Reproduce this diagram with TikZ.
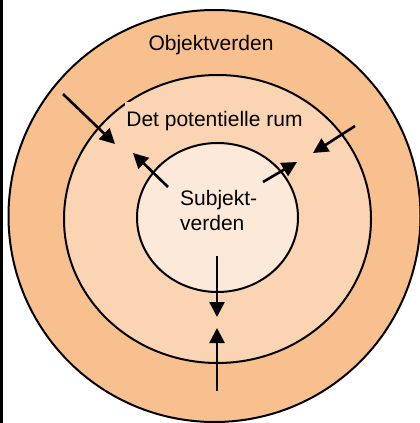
\documentclass[tikz,border=0pt]{standalone}
\usepackage{fontspec}
\setmainfont{Liberation Sans}
\usepackage{tikz}
\usetikzlibrary{shapes.geometric, arrows.meta, positioning}
\definecolor{objcol}{HTML}{F9C08F}
\definecolor{rumcol}{HTML}{FBD4B4}
\definecolor{subcol}{HTML}{FDE9D9}

\begin{document}
\begin{tikzpicture}[x=1pt, y=-1pt,
    ring/.style={draw, ellipse, line width=2pt, inner sep=0pt},
    caption/.style={font=\fontsize{21}{25}\selectfont, inner sep=0pt},
    push/.style={-{Triangle[length=15pt,width=15pt]}, line width=2.6pt}]
    \useasboundingbox (0,0) rectangle (420,423);
    \clip (0,0) rectangle (420,423);
    \fill[white] (0,0) rectangle (420,423);
    \fill[black] (0,0) rectangle (2.5,423);
    % the three worlds
    \node (objekt) [ring, fill=objcol, minimum width=412pt, minimum height=412pt] at (214.5,216) {};
    \node (rum) [ring, fill=rumcol, minimum width=307pt, minimum height=288pt] at (217.5,219) {};
    \node (rumtxt) [caption, anchor=base, fill=rumcol, inner xsep=1pt, inner ysep=9.5pt] at (214.5,126.5) {Det potentielle rum};
    \node (subjekt) [ring, fill=subcol, minimum width=161pt, minimum height=149pt] at (217.5,217.5) {};
    \node (objtxt) [caption, anchor=base] at (211,50) {Objektverden};
    \node (subtxt) [caption, anchor=west, align=left] at (180,210.3) {Subjekt-\\verden};
    % arrows
    \coordinate (nw out) at (63,94);
    \coordinate (nw in) at (115,144);
    \coordinate (nw sub) at (168,187);
    \coordinate (nw tip) at (133,153);
    \coordinate (ne out) at (355,126);
    \coordinate (ne in) at (313,153);
    \coordinate (ne sub) at (263,182);
    \coordinate (ne tip) at (297,162);
    \coordinate (s sub) at (217,256);
    \coordinate (s tip) at (217,317);
    \coordinate (s out) at (217,391);
    \coordinate (s in) at (217,328);
    \draw[push] (nw out) -- (nw in);
    \draw[push] (nw sub) -- (nw tip);
    \draw[push] (ne out) -- (ne in);
    \draw[push] (ne sub) -- (ne tip);
    \draw[push] (s sub) -- (s tip);
    \draw[push] (s out) -- (s in);
\end{tikzpicture}
\end{document}
